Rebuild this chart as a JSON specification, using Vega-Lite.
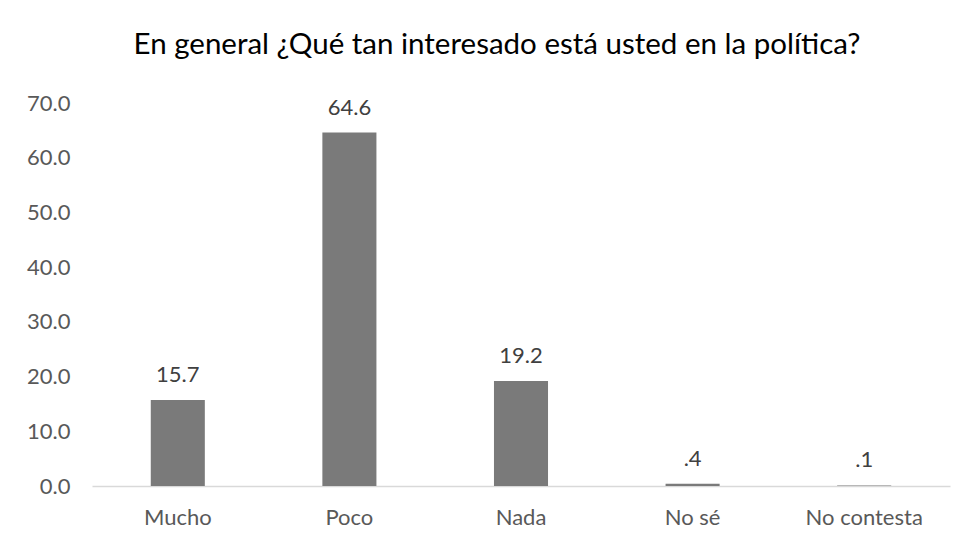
{
  "$schema": "https://vega.github.io/schema/vega-lite/v6.json",
  "width": 858,
  "height": 383,
  "autosize": "none",
  "padding": {"left": 92, "top": 103, "right": 23, "bottom": 62},
  "background": "#ffffff",
  "config": {"view": {"stroke": null}},
  "title": {
    "text": "En general ¿Qué tan interesado está usted en la política?",
    "font": "Lato",
    "fontSize": 29.5,
    "fontWeight": "normal",
    "color": "#000000",
    "anchor": "middle",
    "dx": -24,
    "offset": 32
  },
  "data": {
    "values": [
      {"respuesta": "Mucho", "pct": 15.7, "etiqueta": "15.7"},
      {"respuesta": "Poco", "pct": 64.6, "etiqueta": "64.6"},
      {"respuesta": "Nada", "pct": 19.2, "etiqueta": "19.2"},
      {"respuesta": "No sé", "pct": 0.4, "etiqueta": ".4"},
      {"respuesta": "No contesta", "pct": 0.1, "etiqueta": ".1"}
    ]
  },
  "encoding": {
    "x": {
      "field": "respuesta",
      "type": "nominal",
      "sort": null,
      "scale": {"paddingInner": 0.685, "paddingOuter": 0.3425},
      "axis": {
        "title": null,
        "labelAngle": 0,
        "ticks": false,
        "domainColor": "#d9d9d9",
        "domainWidth": 1.5,
        "labelFont": "Lato",
        "labelFontSize": 22,
        "labelColor": "#595959",
        "labelPadding": 21
      }
    },
    "y": {
      "field": "pct",
      "type": "quantitative",
      "scale": {"domain": [0, 70], "nice": false},
      "axis": {
        "title": null,
        "values": [0, 10, 20, 30, 40, 50, 60, 70],
        "format": ".1f",
        "grid": false,
        "domain": false,
        "ticks": false,
        "labelFont": "Lato",
        "labelFontSize": 22,
        "labelColor": "#595959",
        "labelPadding": 22,
        "labelFlush": false
      }
    }
  },
  "layer": [
    {"mark": {"type": "bar", "color": "#7a7a7a"}},
    {
      "mark": {
        "type": "text",
        "baseline": "middle",
        "dy": -25,
        "font": "Lato",
        "fontSize": 22,
        "color": "#404040"
      },
      "encoding": {"text": {"field": "etiqueta"}}
    }
  ]
}
